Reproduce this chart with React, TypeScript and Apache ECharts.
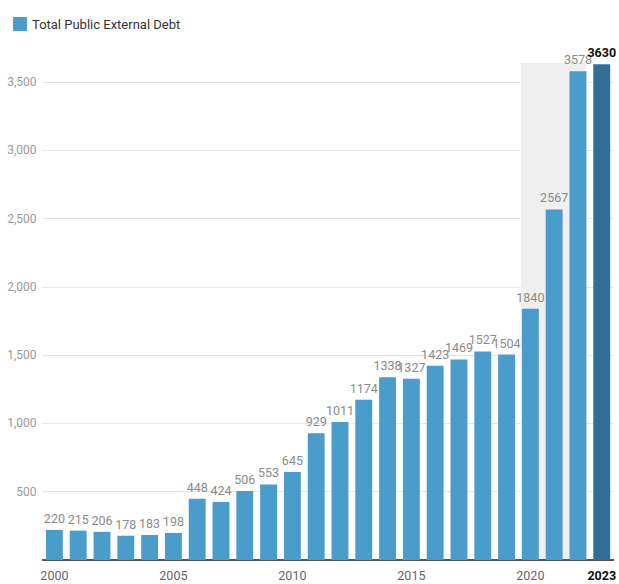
import React, { useEffect, useRef } from "react";
import * as echarts from "echarts";

const years = ["2000","2001","2002","2003","2004","2005","2006","2007","2008","2009","2010","2011","2012","2013","2014","2015","2016","2017","2018","2019","2020","2021","2022","2023"];
const debt = [220,215,206,178,183,198,448,424,506,553,645,929,1011,1174,1338,1327,1423,1469,1527,1504,1840,2567,3578,3630];
const highlightBand = [["2020", "2022", 3640]];
const shownYears = ["2000","2005","2010","2015","2020","2023"];

export default function App() {
  const ref = useRef<HTMLDivElement>(null);
  useEffect(() => {
    const chart = echarts.init(ref.current!, null, { renderer: "svg" });
    const last = years.length - 1;
    chart.setOption({
      animation: false,
      textStyle: { fontFamily: "Roboto" },
      legend: {
        left: 8, top: 12, itemWidth: 14, itemHeight: 14, itemGap: 4,
        icon: "rect",
        textStyle: { fontSize: 13, color: "#333", fontFamily: "Roboto" },
        data: ["Total Public External Debt"],
      },
      grid: { left: 42.5, right: 0.5, top: 82, bottom: 24, containLabel: false },
      xAxis: {
        type: "category",
        data: years,
        axisLine: { lineStyle: { color: "#222", width: 1.5 } },
        axisTick: {
          alignWithLabel: true, length: 4, lineStyle: { color: "#222" },
          interval: (i: number, v: string) => shownYears.includes(v),
        },
        axisLabel: {
          interval: (i: number, v: string) => shownYears.includes(v),
          fontSize: 12.5, margin: 9, color: "#666",
          formatter: (v: string) => (v === "2023" ? "{b|" + v + "}" : v),
          rich: { b: { fontWeight: "bold", color: "#111", fontSize: 12.5 } },
        },
      },
      yAxis: {
        type: "value",
        min: 0, max: 3500, interval: 500,
        axisLine: { show: false }, axisTick: { show: false },
        splitLine: { lineStyle: { color: "#e6e6e6" } },
        axisLabel: {
          color: "#9a9a9a", fontSize: 12, margin: 6,
          showMinLabel: false,
          formatter: (v: number) => v.toLocaleString("en-US"),
        },
      },
      series: [
        {
          type: "custom",
          silent: true,
          z: 0,
          data: highlightBand.map((d) => [years.indexOf(d[0] as string), years.indexOf(d[1] as string), d[2]]),
          renderItem: (params: any, api: any) => {
            const p0 = api.coord([api.value(0), api.value(2)]);
            const p1 = api.coord([api.value(1), 0]);
            const bw = api.size([1, 0])[0];
            return {
              type: "rect",
              shape: { x: p0[0] - bw * 0.4, y: p0[1], width: p1[0] - p0[0] + bw * 0.75, height: p1[1] - p0[1] },
              style: { fill: "#efefef" },
            };
          },
        },
        {
          name: "Total Public External Debt",
          type: "bar",
          clip: false,
          barCategoryGap: "29%",
          z: 2,
          itemStyle: { color: "#4a9dca" },
          data: debt.map((v, i) =>
            i === last
              ? { value: v, itemStyle: { color: "#2f6f98" }, label: { fontWeight: "bold", color: "#111" } }
              : v
          ),
          label: {
            show: true, position: "top", distance: 5, fontSize: 12.5, color: "#8a8a8a",
          },
        },
      ],
    });
    return () => chart.dispose();
  }, []);
  return <div ref={ref} style={{ position: "absolute", left: 0, top: 0, width: 619, height: 584 }} />;
}
